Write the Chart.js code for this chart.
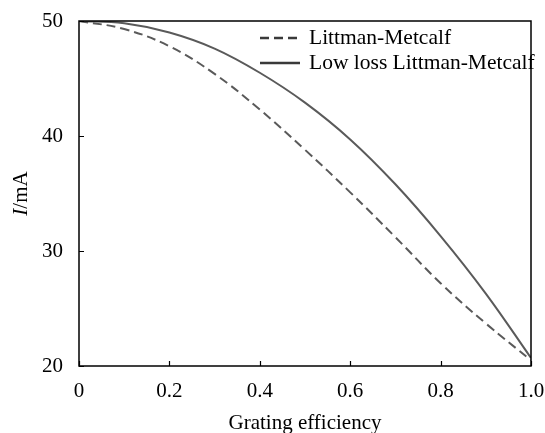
<!DOCTYPE html>
<html>
<head>
<meta charset="utf-8">
<script src="https://cdn.jsdelivr.net/npm/chart.js@4.4.0/dist/chart.umd.min.js"></script>
<style>
  body { margin: 0; background: #fff; }
  #wrap { width: 545px; height: 433px; }
</style>
</head>
<body>
<div id="wrap"><canvas id="myChart" width="545" height="433"></canvas></div>
<script>
// grating efficiency (x) and current in mA for both cavities
var efficiency = [0, 0.1, 0.2, 0.3, 0.4, 0.5, 0.6, 0.7, 0.8, 0.9, 1.0];
var littman = [50, 49.3, 47.8, 45.4, 42.3, 38.8, 35.1, 31.2, 27.2, 23.7, 20.5];
var lowLoss = [50, 49.8, 49.0, 47.6, 45.5, 42.9, 39.7, 35.8, 31.3, 26.3, 20.7];
var xTickLabels = ["0", "0.2", "0.4", "0.6", "0.8", "1.0"];
var yTickLabels = ["20", "30", "40", "50"];

var police = "'Liberation Serif', 'Times New Roman', serif";
var gris = "#5a5a5a";

function toPoints(xs, ys) {
  return xs.map(function (x, i) { return { x: x, y: ys[i] }; });
}

// on enlève le padding automatique des axes, le layout.padding décide seul
function sansPadding(scale) {
  scale.paddingTop = 0;
  scale.paddingBottom = 0;
  scale.paddingLeft = 0;
  scale.paddingRight = 0;
}

// cadre + graduations vers l'intérieur + titre y + légende
var cadrePlugin = {
  id: "cadre",
  afterDraw: function (chart) {
    var ctx = chart.ctx;
    var a = chart.chartArea;
    var sx = chart.scales.x, sy = chart.scales.y;
    ctx.save();
    ctx.strokeStyle = "#000";
    ctx.lineWidth = 1.5;
    ctx.strokeRect(a.left, a.top, a.right - a.left, a.bottom - a.top);
    ctx.lineWidth = 1.2;
    ctx.beginPath();
    sx.ticks.forEach(function (t) {
      var px = Math.round(sx.getPixelForValue(t.value)) + 0.5;
      ctx.moveTo(px, a.bottom);
      ctx.lineTo(px, a.bottom - 5);
    });
    sy.ticks.forEach(function (t) {
      var py = Math.round(sy.getPixelForValue(t.value)) + 0.5;
      ctx.moveTo(a.left, py);
      ctx.lineTo(a.left + 5, py);
    });
    ctx.stroke();

    // titre de l'axe y : "I" en italique puis "/mA"
    ctx.translate(21, (a.top + a.bottom) / 2);
    ctx.rotate(-Math.PI / 2);
    ctx.fillStyle = "#000";
    ctx.textBaseline = "middle";
    ctx.font = "italic 21px " + police;
    var w1 = ctx.measureText("I").width;
    ctx.font = "21px " + police;
    var w2 = ctx.measureText("/mA").width;
    var x0 = -(w1 + w2) / 2;
    ctx.font = "italic 21px " + police;
    ctx.textAlign = "left";
    ctx.fillText("I", x0, 0);
    ctx.font = "21px " + police;
    ctx.fillText("/mA", x0 + w1, 0);
    ctx.restore();

    // légende
    ctx.save();
    ctx.font = "21.5px " + police;
    ctx.textBaseline = "middle";
    ctx.textAlign = "left";
    chart.data.datasets.forEach(function (ds, i) {
      var y = 38 + i * 25;
      ctx.strokeStyle = "#3a3a3a";
      ctx.lineWidth = 2.5;
      ctx.setLineDash(ds.borderDash || []);
      ctx.beginPath();
      ctx.moveTo(260, y);
      ctx.lineTo(300, y);
      ctx.stroke();
      ctx.setLineDash([]);
      ctx.fillStyle = "#000";
      ctx.fillText(ds.label, 309, y);
    });
    ctx.restore();
  }
};

const contexte = document.getElementById("myChart");
const myChart = new Chart(contexte, {
  type: "line",
  data: {
    datasets: [
      {
        label: "Littman-Metcalf",
        data: toPoints(efficiency, littman),
        borderColor: gris,
        borderWidth: 2,
        borderDash: [9, 5],
        pointRadius: 0,
        tension: 0.4,
        fill: false
      },
      {
        label: "Low loss Littman-Metcalf",
        data: toPoints(efficiency, lowLoss),
        borderColor: gris,
        borderWidth: 2,
        pointRadius: 0,
        tension: 0.4,
        fill: false
      }
    ]
  },
  options: {
    responsive: false,
    animation: false,
    layout: { padding: { top: 21, right: 14, left: 0, bottom: 0 } },
    plugins: {
      legend: { display: false },
      tooltip: { enabled: false }
    },
    scales: {
      x: {
        type: "linear",
        min: 0,
        max: 1,
        grid: { display: true, drawOnChartArea: false, drawTicks: false },
        border: { display: false },
        afterBuildTicks: function (scale) {
          scale.ticks = xTickLabels.map(function (l) { return { value: parseFloat(l) }; });
        },
        afterFit: function (scale) { scale.height = 67; sansPadding(scale); },
        ticks: {
          color: "#000",
          padding: 13,
          maxRotation: 0,
          font: { family: police, size: 21 },
          callback: function (v, i) { return xTickLabels[i]; }
        },
        title: {
          display: true,
          text: "Grating efficiency",
          color: "#000",
          font: { family: police, size: 21 },
          padding: { top: 0, bottom: -3 }
        }
      },
      y: {
        type: "linear",
        min: 20,
        max: 50,
        grid: { display: true, drawOnChartArea: false, drawTicks: false },
        border: { display: false },
        afterBuildTicks: function (scale) {
          scale.ticks = yTickLabels.map(function (l) { return { value: parseFloat(l) }; });
        },
        afterFit: function (scale) { scale.width = 79; sansPadding(scale); },
        ticks: {
          color: "#000",
          padding: 16,
          font: { family: police, size: 21 },
          callback: function (v, i) { return yTickLabels[i]; }
        }
      }
    }
  },
  plugins: [cadrePlugin]
});
</script>
</body>
</html>
